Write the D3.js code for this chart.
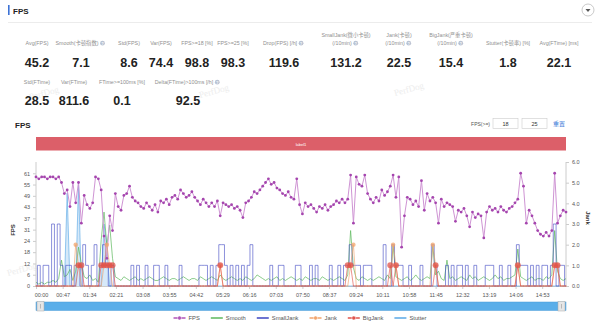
<!DOCTYPE html>
<html><head><meta charset="utf-8">
<script src="https://cdn.jsdelivr.net/npm/d3@7"></script>
<style>
body{margin:0;background:#fff;}
svg{display:block;font-family:"Liberation Sans","Noto Sans CJK SC",sans-serif;}
</style></head><body>
<svg id="c" width="600" height="326"></svg>
<script>
// ---------- data ----------
const stepSec = 5;
const fps = [59,58,59,59,58,59,59,58,59,56,50,52,43,56,45,56,34,49,44,42,45,59,58,52,27,15,38,30,50,43,
41,49,50,54,48,46,45,43,42,45,43,41,44,40,46,45,47,44,48,49,47,52,50,48,49,51,48,46,44,47,
45,43,45,43,46,38,45,44,43,44,42,43,41,37,45,46,48,51,50,52,54,56,58,55,56,53,52,50,49,51,
48,47,58,44,39,45,43,44,42,40,43,42,44,41,43,44,46,45,47,45,47,60,34,59,55,54,60,50,47,45,
48,46,52,49,51,54,60,48,59,21,38,48,47,44,46,43,57,41,50,46,48,45,34,47,43,45,44,43,35,41,
40,42,38,32,40,37,39,38,26,40,43,41,42,40,43,41,40,42,43,45,47,61,54,34,41,38,34,30,28,27,
29,27,30,61,34,38,41,40];
const smooth = [2,1,2,1,2,2,3,2,4,14,5,6,9,3,8,21,12,5,4,6,3,4,2,25,40,22,33,15,5,
4,3,5,4,3,4,5,3,4,3,4,5,4,3,3,4,5,4,3,4,4,
3,4,5,4,3,4,4,3,5,4,3,4,5,4,3,6,4,3,4,5,
4,3,4,3,5,4,3,4,6,5,4,3,4,3,4,5,3,4,3,4,
5,4,3,4,3,5,4,3,4,4,3,5,4,3,4,3,4,5,4,3,
6,30,10,4,3,5,4,3,4,3,4,5,4,3,6,4,22,5,4,3,
4,5,3,4,6,4,3,4,5,4,22,6,8,4,3,14,4,5,3,4,
5,4,3,6,4,5,3,4,5,4,3,4,6,4,5,3,4,4,5,6,
20,5,4,3,4,5,3,4,4,3,5,4,6,30,8,4,3,4];
const smallJank = [0,1,0,1,1,0,3,0,3,1, 0,1,1,0,1,1,0,2,1,0, 1,2,0,1,2,1,0,1,0,0,
0,0,0,0,1,0,1,0,0,1, 0,0,1,1,0,0,1,0,0,0, 0,1,0,0,0,0,0,0,1,1, 1,0,1,0,1,2,2,1,0,1,
0,1,0,1,0,1,2,0,0,0, 0,0,0,1,0,0,1,1,0,0, 0,0,1,1,0,0,0,1,0,1, 0,0,0,0,1,0,0,1,0,1,
1,2,1,1,1,0,1,1,1,0, 0,0,0,2,0,0,2,1,1,1, 0,0,1,0,0,0,1,0,0,0, 2,1,0,0,0,1,0,1,0,1,
1,0,1,0,0,1,0,0,0,1, 1,1,0,0,1,0,0,1,0,0, 2,1,1,1,0,1,0,1,0,1, 1,0,1,3,0,1,1,0];
const jankIdx = [14,15,24,25,26,65,111,112,126,127,140,141,170,183,184];
const jankVal = [2,1,1,2,1,1,1,2,2,1,2,1,1,1,1];
const bigJankIdx = [15,16,23,24,25,26,27,65,110,111,125,127,141,170,183,184];
const bigJankVal = [1,1,1,1,1,1,1,1,1,1,1,1,1,1,1,1];
const stutterIdx = [11,15,24,25];
const stutterVal = [4.5,5,3,2];
const xTickLabels = ["00:00","00:47","01:34","02:21","03:08","03:55","04:42","05:29","06:16","07:03",
"07:50","08:37","09:24","10:11","10:58","11:45","12:32","13:19","14:06","14:53"];
const leftTicks = [0,6.1,12.2,18.3,24.4,30.5,36.6,42.7,48.8,54.9,61];
const rightTicks = [0,1,2,3,4,5,6];
const statLabels1 = ["Avg(FPS)","Smooth(卡顿指数)","Std(FPS)","Var(FPS)","FPS>=18 [%]","FPS>=25 [%]","Drop(FPS) [/h]",
"SmallJank(微小卡顿)|(/10min)","Jank(卡顿)|(/10min)","BigJank(严重卡顿)|(/10min)","Stutter(卡顿率) [%]","Avg(FTime) [ms]"];
const statValues1 = ["45.2","7.1","8.6","74.4","98.8","98.3","119.6","131.2","22.5","15.4","1.8","22.1"];
const statIcons1 = [0,1,0,0,0,0,1,1,1,1,0,0];
const statLabels2 = ["Std(FTime)","Var(FTime)","FTime>=100ms [%]","Delta(FTime)>100ms [/h]"];
const statValues2 = ["28.5","811.6","0.1","92.5"];
const statIcons2 = [0,0,0,1];
const legendNames = ["FPS","Smooth","SmallJank","Jank","BigJank","Stutter"];
const legendColors = ["#b055b8","#5cb85c","#3d46c2","#f2a46c","#e0534b","#5aa8e6"];

// ---------- layout ----------
const svg = d3.select("#c");
const L = 36, R = 566, B = 286, T = 162;
const N = fps.length;
const x = d3.scaleLinear().domain([0, (N-1)*stepSec]).range([L, R]);
const yL = d3.scaleLinear().domain([0, 67.1]).range([B, T]);
const yR = d3.scaleLinear().domain([0, 6]).range([B, T]);
const tOf = i => i*stepSec;
const sparse = (idx, vals) => { const a = new Array(N).fill(0); idx.forEach((k,j)=>{ if(k<N) a[k]=vals[j]; }); return a; };
const jank = sparse(jankIdx, jankVal), bigJank = sparse(bigJankIdx, bigJankVal), stutter = sparse(stutterIdx, stutterVal);

// watermarks
[[30,100],[200,98],[395,96],[8,276]].forEach(([wx,wy])=>{
  svg.append("text").attr("transform",`translate(${wx},${wy}) rotate(-15)`).attr("font-family","Liberation Serif,serif")
    .attr("font-size",9).attr("fill","#ededed").text("PerfDog");
});

// header
svg.append("rect").attr("x",8).attr("y",5).attr("width",1.6).attr("height",10).attr("fill","#3d72d6");
svg.append("text").attr("x",13).attr("y",13.5).attr("font-size",8).attr("font-weight","bold").attr("fill","#222").text("FPS");
svg.append("line").attr("x1",8).attr("x2",592).attr("y1",22.5).attr("y2",22.5).attr("stroke","#ececec");
svg.append("circle").attr("cx",588).attr("cy",10).attr("r",6).attr("fill","#fff").attr("stroke","#bbb").attr("stroke-width",0.8);
svg.append("path").attr("d","M585.5,9 L590.5,9 L588,12 Z").attr("fill","#555");

// stats
const centers1 = [37,81,129,161,197,233,284,346,399,451,508,559];
const centers2 = [37,74,122,188];
function drawStats(labels, values, icons, centers, labelY, valueY){
  labels.forEach((lab,i)=>{
    const lines = lab.split("|");
    const g = svg.append("g");
    lines.forEach((ln,k)=>{
      const ty = labelY - (lines.length-1-k)*8;
      const t = g.append("text").attr("x",centers[i]).attr("y",ty).attr("text-anchor","middle")
        .attr("font-size",5.3).attr("fill","#8f8f8f").text(ln);
      if (icons[i] && k===lines.length-1){
        const w = t.node().getComputedTextLength();
        t.attr("x", centers[i]-4);
        g.append("circle").attr("cx",centers[i]-4+w/2+4).attr("cy",ty-1.8).attr("r",2.4).attr("fill","#b9c3d3");
        g.append("text").attr("x",centers[i]-4+w/2+4).attr("y",ty-0.2).attr("text-anchor","middle").attr("font-size",3.5).attr("fill","#fff").attr("font-weight","bold").text("?");
      }
    });
    svg.append("text").attr("x",centers[i]).attr("y",valueY).attr("text-anchor","middle")
      .attr("font-size",12.5).attr("font-weight","bold").attr("fill","#222").text(values[i]);
  });
}
drawStats(statLabels1, statValues1, statIcons1, centers1, 45, 66.5);
drawStats(statLabels2, statValues2, statIcons2, centers2, 84, 104.5);

// chart header
svg.append("text").attr("x",15).attr("y",128).attr("font-size",8).attr("font-weight","bold").attr("fill","#222").text("FPS");
svg.append("text").attr("x",490).attr("y",125.5).attr("text-anchor","end").attr("font-size",5).attr("fill","#555").text("FPS(>=)");
[[493,"18"],[522,"25"]].forEach(([bx,v])=>{
  svg.append("rect").attr("x",bx).attr("y",118.5).attr("width",25).attr("height",10).attr("fill","#fff").attr("stroke","#ccc").attr("stroke-width",0.6);
  svg.append("text").attr("x",bx+12.5).attr("y",125.8).attr("text-anchor","middle").attr("font-size",5.5).attr("fill","#333").text(v);
});
svg.append("text").attr("x",553).attr("y",126).attr("font-size",6).attr("fill","#3a78d8").text("重置");

// red band
svg.append("rect").attr("x",L).attr("y",137).attr("width",R-L).attr("height",13.5).attr("fill","#dc5f69");
svg.append("text").attr("x",301).attr("y",145.5).attr("text-anchor","middle").attr("font-size",4).attr("fill","#fff").text("label1");

// axes
const gx = svg.append("g").attr("transform",`translate(0,${B})`)
  .call(d3.axisBottom(x).tickValues(xTickLabels.map((_,i)=>i*47)).tickFormat((d,i)=>xTickLabels[i]).tickSize(3).tickSizeOuter(0));
const gl = svg.append("g").attr("transform",`translate(${L},0)`)
  .call(d3.axisLeft(yL).tickValues(leftTicks).tickFormat(d=>Math.round(d)).tickSize(3).tickSizeOuter(0));
const gr = svg.append("g").attr("transform",`translate(${R},0)`)
  .call(d3.axisRight(yR).tickValues(rightTicks).tickSize(3).tickSizeOuter(0));
[gx,gl,gr].forEach(g=>{
  g.selectAll("path.domain").attr("stroke","#ccc");
  g.selectAll(".tick line").attr("stroke","#ccc");
  g.selectAll(".tick text").attr("fill","#555").attr("font-size",5.5).attr("font-family","Liberation Sans,sans-serif");
});
gl.select("path.domain").attr("d",`M0,${T}V${B}`);
gr.select("path.domain").attr("d",`M0,${T}V${B}`);
gx.selectAll(".tick text").attr("dy","0.9em");
gx.selectAll(".tick text").filter((d,i)=>i===0).attr("dx",5);
svg.append("text").attr("transform",`translate(15,230) rotate(-90)`).attr("text-anchor","middle").attr("font-size",6).attr("font-weight","bold").attr("fill","#333").text("FPS");
svg.append("text").attr("transform",`translate(586,218) rotate(90)`).attr("text-anchor","middle").attr("font-size",6).attr("font-weight","bold").attr("fill","#333").text("Jank");

// series
const lineR = d3.line().x((d,i)=>x(tOf(i))).y(d=>yR(d));
const lineL = d3.line().x((d,i)=>x(tOf(i))).y(d=>yL(d));
// stutter area
svg.append("path").datum(stutter).attr("d", d3.area().x((d,i)=>x(tOf(i))).y0(B).y1(d=>yR(d)))
  .attr("fill","#5aa8e6").attr("opacity",0.25);
svg.append("path").datum(stutter).attr("d", lineR).attr("fill","none").attr("stroke","#5aa8e6").attr("stroke-width",0.8).attr("opacity",0.8);
// smooth
svg.append("path").datum(smooth).attr("d", lineL).attr("fill","none").attr("stroke","#5cb85c").attr("stroke-width",0.7);
// small jank
svg.append("path").datum(smallJank).attr("d", d3.line().x((d,i)=>x(tOf(i))).y(d=>yR(d)).curve(d3.curveStep))
  .attr("fill","none").attr("stroke","#3d46c2").attr("stroke-width",0.7).attr("opacity",0.85);
// fps
svg.append("path").datum(fps).attr("d", lineL).attr("fill","none").attr("stroke","#cf94d4").attr("stroke-width",1);
svg.append("g").selectAll("circle").data(fps).join("circle")
  .attr("cx",(d,i)=>x(tOf(i))).attr("cy",d=>yL(d)).attr("r",1.4).attr("fill","#a545ae");
// jank & bigjank
[[jank,"#f2a46c",2.2],[bigJank,"#e0534b",3]].forEach(([arr,col,rr])=>{
  svg.append("path").datum(arr).attr("d", lineR).attr("fill","none").attr("stroke",col).attr("stroke-width",0.8).attr("opacity",0.8);
  svg.append("g").selectAll("circle").data(arr).join("circle")
    .attr("cx",(d,i)=>x(tOf(i))).attr("cy",d=>yR(d)).attr("r",d=>d>0?rr:0.8)
    .attr("fill",col).attr("opacity",d=>d>0?0.75:0.35);
});

// data zoom slider
svg.append("rect").attr("x",L).attr("y",302).attr("width",R-L).attr("height",8.5).attr("fill","#5aaee9").attr("stroke","#4a9bd8").attr("stroke-width",0.5);
[L+1,R-8].forEach(hx=>{
  svg.append("rect").attr("x",hx).attr("y",301.5).attr("width",7).attr("height",9.5).attr("fill","#e6e6e6").attr("stroke","#aaa").attr("stroke-width",0.5);
  svg.append("line").attr("x1",hx+3.5).attr("x2",hx+3.5).attr("y1",304).attr("y2",308.5).attr("stroke","#999").attr("stroke-width",0.6);
});

// legend
const lg = svg.append("g");
let lx = 0;
legendNames.forEach((nm,i)=>{
  const g = lg.append("g").attr("transform",`translate(${lx},0)`);
  g.append("line").attr("x1",0).attr("x2",12).attr("y1",0).attr("y2",0).attr("stroke",legendColors[i]).attr("stroke-width",1.5);
  if ([0,3,4].includes(i)) g.append("circle").attr("cx",6).attr("cy",0).attr("r",2).attr("fill",legendColors[i]).attr("stroke","#fff").attr("stroke-width",0.5);
  const t = g.append("text").attr("x",15).attr("y",2).attr("font-size",5.8).attr("fill","#555").text(nm);
  lx += 15 + t.node().getComputedTextLength() + 11;
});
lg.attr("transform",`translate(${300 - (lx-11)/2},318)`);
</script>
</body></html>
